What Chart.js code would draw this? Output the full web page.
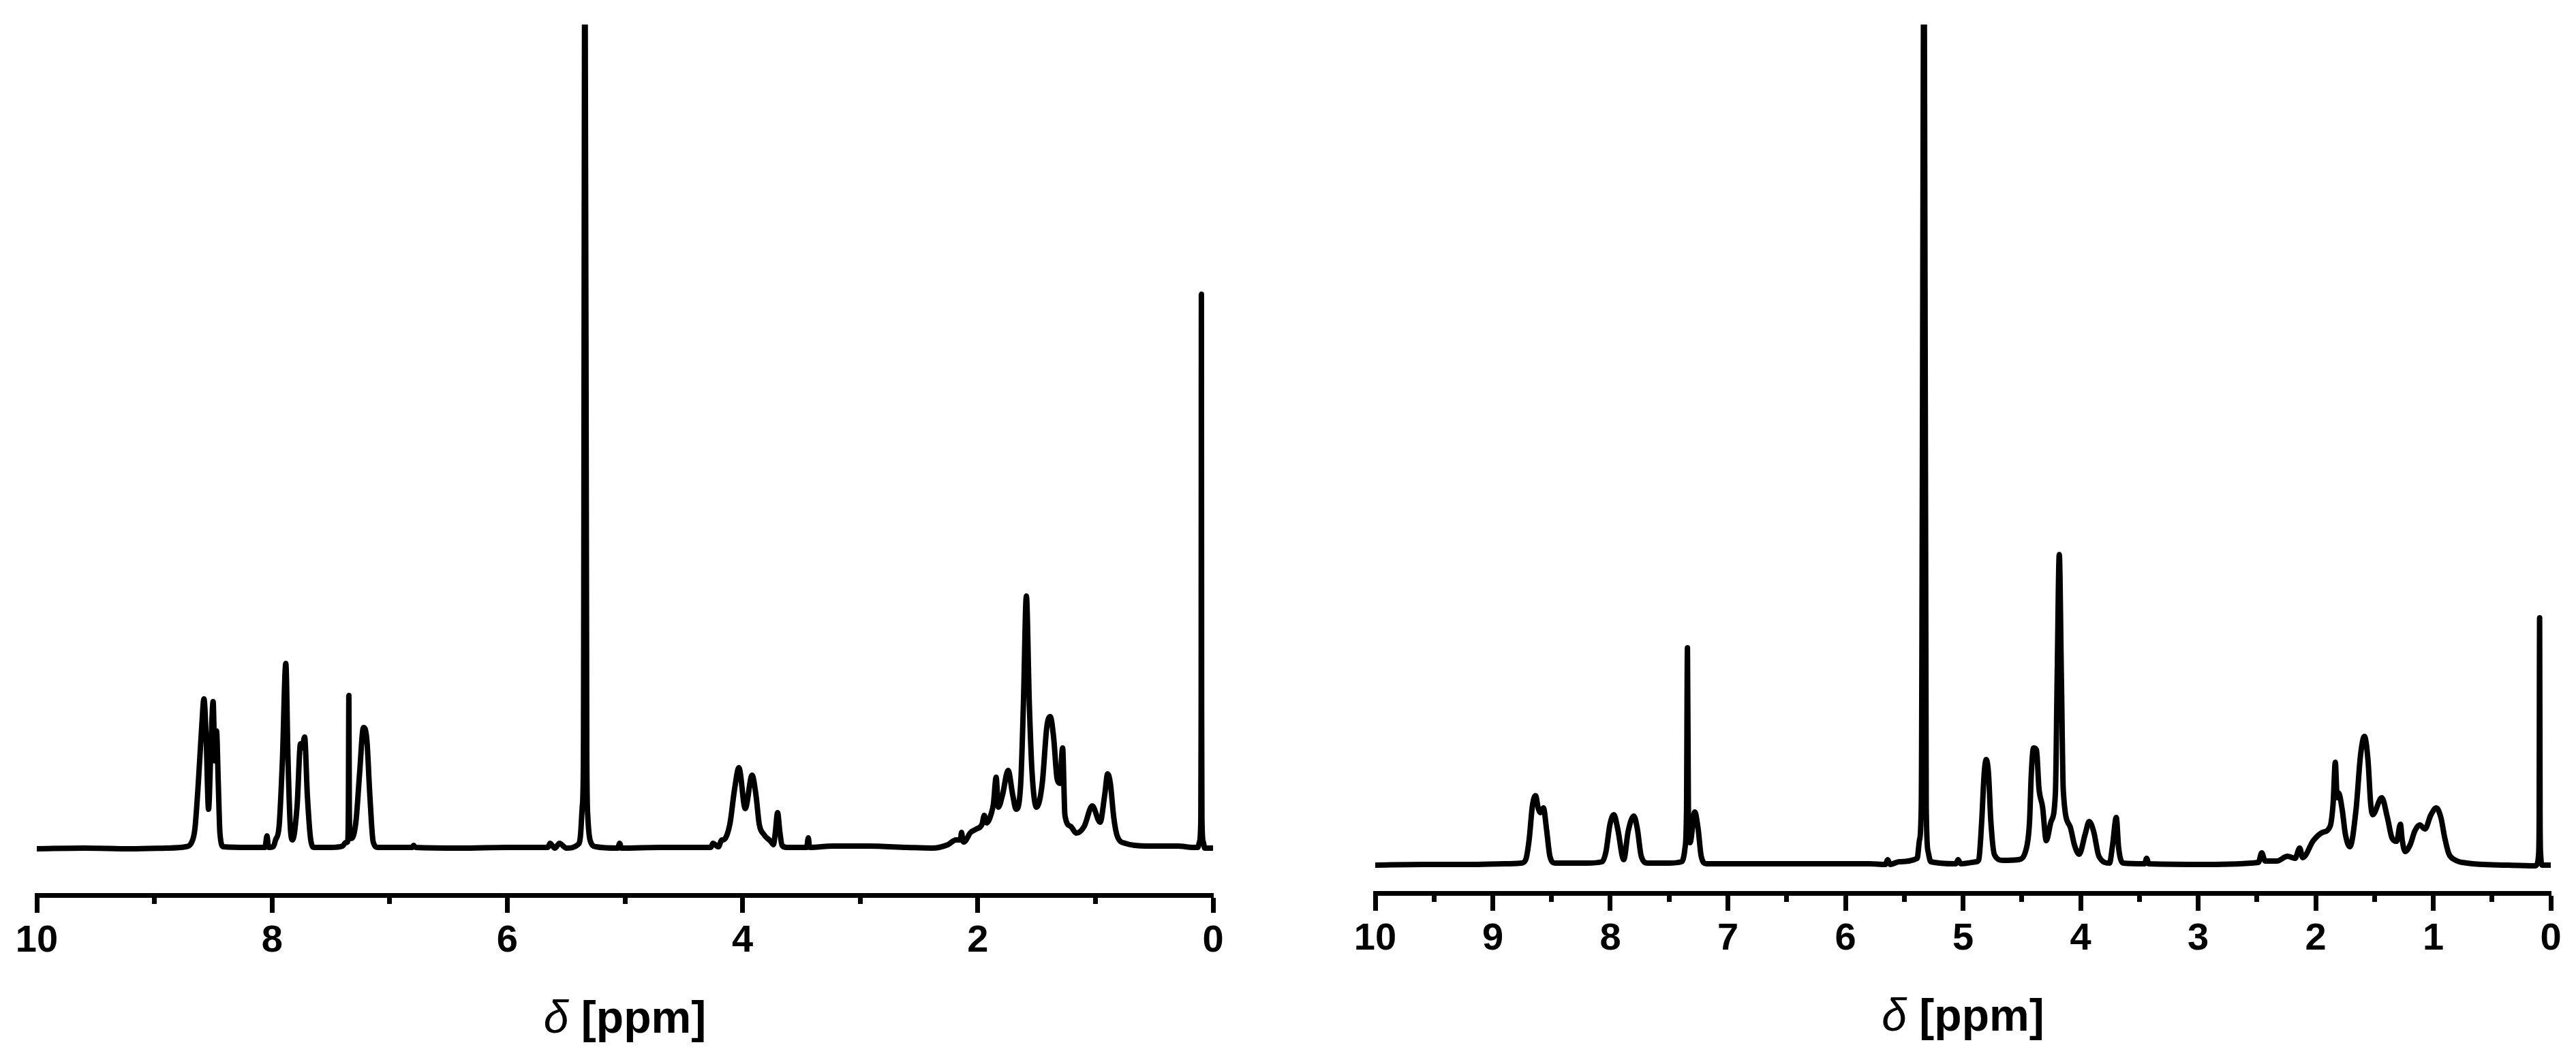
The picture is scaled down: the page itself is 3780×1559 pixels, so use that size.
<!DOCTYPE html>
<html>
<head>
<meta charset="utf-8">
<script src="https://cdn.jsdelivr.net/npm/chart.js@4.4.0/dist/chart.umd.min.js"></script>
<style>
  html, body { margin: 0; padding: 0; background: #fff; }
  #wrap { position: relative; width: 3780px; height: 1559px; }
  canvas { position: absolute; top: 0; }
</style>
</head>
<body>
<div id="wrap">
  <canvas id="left" width="1890" height="1559" style="left:0"></canvas>
  <canvas id="right" width="1890" height="1559" style="left:1890px"></canvas>
</div>
<script>
// left spectrum: chemical shift (ppm) and intensity
const leftPpm = [10.00, 9.60, 9.20, 8.90, 8.733, 8.685, 8.656, 8.627, 8.598, 8.579, 8.560, 8.540, 8.520, 8.501, 8.486, 8.472, 8.457, 8.443, 8.414,
  8.20, 8.06, 8.043, 8.03, 7.99, 7.97, 7.94, 7.912, 7.883, 7.864, 7.845, 7.826, 7.787, 7.758, 7.745, 7.723, 7.700, 7.671, 7.642,
  7.50, 7.40, 7.375, 7.358, 7.351, 7.347, 7.343, 7.336, 7.314, 7.285, 7.256, 7.223, 7.194, 7.169, 7.140, 7.100,
  6.90, 6.81, 6.796, 6.78, 6.40, 6.00, 5.70, 5.655, 5.637, 5.596, 5.556, 5.498, 5.40, 5.378, 5.362, 5.353, 5.340, 5.324, 5.315, 5.295, 5.247,
  5.06, 5.045, 5.03, 4.70, 4.40, 4.27, 4.252, 4.206, 4.175, 4.166, 4.108, 4.069, 4.031, 3.977, 3.919, 3.886, 3.858, 3.819, 3.760,
  3.737, 3.722, 3.702, 3.683, 3.664, 3.625, 3.455, 3.441, 3.43, 3.23, 2.93, 2.60, 2.389, 2.254, 2.186, 2.148, 2.138, 2.128, 2.119,
  2.061, 2.012, 1.964, 1.945, 1.925, 1.883, 1.867, 1.844, 1.825, 1.790, 1.742, 1.703, 1.674, 1.635, 1.612, 1.587, 1.562, 1.539,
  1.500, 1.452, 1.413, 1.384, 1.355, 1.326, 1.303, 1.279, 1.259, 1.211, 1.162, 1.095, 1.027, 0.960, 0.921, 0.896, 0.873, 0.844,
  0.815, 0.747, 0.554, 0.300, 0.168, 0.130, 0.115, 0.104, 0.101, 0.099, 0.097, 0.094, 0.083, 0.070, 0.000];
const leftInt = [0.0, 0.1, 0.0, 0.1, 0.3, 0.9, 2.9, 9.6, 17.9, 22.0, 16.3, 5.8, 14.6, 21.6, 12.9, 17.3, 9.6, 2.3, 0.3,
  0.2, 0.2, 1.9, 0.2, 0.3, 1.3, 3.3, 12.9, 27.2, 12.9, 3.3, 1.3, 6.3, 15.4, 14.8, 16.4, 7.9, 1.3, 0.2,
  0.2, 0.4, 0.9, 1.0, 6.0, 22.5, 6.0, 1.5, 1.7, 4.3, 11.0, 17.8, 16.0, 8.0, 1.0, 0.2,
  0.2, 0.2, 0.5, 0.2, 0.1, 0.2, 0.2, 0.2, 0.8, 0.1, 0.8, 0.1, 0.6, 1.9, 6.3, 12.9, 140, 12.9, 4.6, 1.2, 0.3,
  0.1, 0.8, 0.1, 0.2, 0.2, 0.2, 0.8, 0.3, 1.3, 1.3, 3.6, 8.6, 11.9, 5.9, 10.8, 7.9, 3.6, 2.1, 1.1,
  0.6, 2.3, 5.3, 2.5, 0.5, 0.2, 0.2, 1.6, 0.2, 0.4, 0.4, 0.2, 0.1, 0.6, 1.3, 1.3, 2.4, 1.2, 1.0,
  2.4, 2.9, 3.6, 4.9, 3.8, 5.3, 6.6, 10.5, 6.1, 7.9, 11.5, 7.9, 5.8, 9.6, 21.3, 37.1, 21.3, 11.3,
  6.1, 9.6, 17.9, 19.4, 16.3, 10.3, 9.6, 14.8, 4.9, 3.3, 2.3, 3.3, 6.3, 3.9, 7.9, 11.0, 9.6, 4.6,
  1.9, 0.8, 0.4, 0.4, 0.2, 0.2, 1.0, 4.0, 20.0, 81.4, 20.0, 4.0, 1.0, 0.1, 0.1];

// right spectrum
const rightPpm = [10.00, 9.60, 9.20, 8.90, 8.758, 8.720, 8.691, 8.663, 8.636, 8.613, 8.596, 8.569, 8.543, 8.514, 8.470,
  8.20, 8.070, 8.037, 8.003, 7.970, 7.937, 7.886, 7.848, 7.800, 7.770, 7.737, 7.682,
  7.50, 7.394, 7.365, 7.352, 7.344, 7.336, 7.322, 7.282, 7.253, 7.227, 7.183,
  6.80, 6.20, 5.80, 5.66, 5.641, 5.62, 5.544, 5.390, 5.370, 5.355, 5.331, 5.313, 5.297, 5.274,
  5.06, 5.042, 5.02, 4.887, 4.866, 4.841, 4.820, 4.802, 4.783, 4.763, 4.732, 4.659, 4.530,
  4.465, 4.434, 4.419, 4.400, 4.375, 4.354, 4.323, 4.292, 4.251, 4.214, 4.199, 4.181, 4.163, 4.147, 4.090, 4.051, 4.012,
  3.960, 3.927, 3.888, 3.844, 3.754, 3.728, 3.696, 3.676, 3.637, 3.455, 3.438, 3.42, 2.925,
  2.487, 2.459, 2.430, 2.330, 2.240, 2.175, 2.136, 2.110, 2.020, 1.942, 1.877, 1.851, 1.833, 1.817, 1.805, 1.774, 1.748, 1.709,
  1.657, 1.618, 1.585, 1.554, 1.533, 1.515, 1.438, 1.390, 1.351, 1.312, 1.279, 1.264, 1.239, 1.196, 1.157, 1.115, 1.070,
  1.022, 0.974, 0.935, 0.902, 0.868, 0.819, 0.713, 0.365, 0.133, 0.115, 0.104, 0.099, 0.095, 0.091, 0.086, 0.075, 0.000];
const rightInt = [0.0, 0.1, 0.1, 0.2, 0.3, 0.8, 3.7, 8.7, 10.2, 8.3, 7.7, 8.4, 5.3, 1.3, 0.3,
  0.3, 0.5, 2.0, 6.0, 7.4, 5.3, 0.8, 5.0, 7.2, 5.3, 1.3, 0.3,
  0.3, 0.5, 2.5, 8.0, 31.9, 8.0, 3.3, 7.8, 5.3, 1.3, 0.2,
  0.2, 0.2, 0.2, 0.1, 0.8, 0.1, 0.5, 1.0, 3.7, 8.7, 140, 8.7, 2.0, 0.5,
  0.2, 0.8, 0.2, 0.5, 0.8, 6.4, 13.4, 15.5, 13.4, 6.4, 1.5, 0.7, 0.8,
  2.2, 6.4, 13.4, 17.2, 16.9, 11.3, 8.5, 3.6, 6.4, 10.6, 27.4, 45.6, 27.4, 11.0, 5.7, 2.9, 1.6,
  4.6, 6.4, 4.9, 1.3, 0.3, 2.9, 7.0, 2.5, 0.3, 0.2, 1.0, 0.2, 0.1,
  0.4, 1.8, 0.6, 0.6, 1.3, 1.0, 2.5, 1.1, 3.6, 4.8, 5.7, 9.2, 15.1, 9.9, 10.6, 8.1, 4.6, 2.7,
  8.1, 16.2, 18.9, 15.2, 9.2, 7.4, 9.9, 7.0, 4.0, 3.5, 6.0, 3.7, 2.0, 3.0, 5.0, 5.9, 5.3,
  7.3, 8.4, 7.0, 4.0, 1.7, 0.8, 0.3, 0.0, -0.1, 0.2, 1.5, 6.0, 36.3, 6.0, 1.5, 0.0, 0.0];

// tick values
const leftMajor = [10, 8, 6, 4, 2, 0];
const leftMinor = [9, 7, 5, 3, 1];
const rightMajor = [10, 9, 8, 7, 6, 5, 4, 3, 2, 1, 0];
const rightMinor = [9.5, 8.5, 7.5, 6.5, 5.5, 4.5, 3.5, 2.5, 1.5, 0.5];

const FAMILY = '"Liberation Sans", Arial, sans-serif';
Chart.defaults.font.family = FAMILY;
Chart.defaults.color = '#000';

// axis title with an italic delta and a bold unit
const axisTitle = {
  id: 'axisTitle',
  afterDraw(chart, args, opts) {
    const ctx = chart.ctx;
    const area = chart.chartArea;
    const y = area.bottom + opts.offset;
    const f1 = 'italic 66px ' + FAMILY;
    const f2 = 'bold 66px ' + FAMILY;
    ctx.save();
    ctx.fillStyle = '#000';
    ctx.textBaseline = 'alphabetic';
    ctx.textAlign = 'left';
    ctx.font = f1;
    const w1 = ctx.measureText(opts.symbol).width;
    ctx.font = f2;
    const w2 = ctx.measureText(opts.unit).width;
    const x = (area.left + area.right) / 2 - (w1 + w2) / 2;
    ctx.font = f1;
    ctx.fillText(opts.symbol, x, y);
    ctx.font = f2;
    ctx.fillText(opts.unit, x + w1, y);
    ctx.restore();
  }
};

function makeSpectrum(id, ppm, intensity, major, minor, yMin, yMax, padding, axisHeight) {
  const points = ppm.map((p, i) => ({ x: p, y: intensity[i] }));
  return new Chart(document.getElementById(id), {
    type: 'line',
    data: {
      datasets: [{
        data: points,
        borderColor: '#000',
        borderWidth: 8,
        pointRadius: 0,
        fill: false,
        cubicInterpolationMode: 'monotone',
        borderJoinStyle: 'round',
        clip: { left: 4, right: 4, top: 0, bottom: 4 }
      }]
    },
    options: {
      responsive: false,
      animation: false,
      layout: { padding: padding },
      plugins: {
        legend: { display: false },
        tooltip: { enabled: false },
        axisTitle: { symbol: 'δ', unit: ' [ppm]', offset: 202 }
      },
      scales: {
        x: {
          type: 'linear', position: 'bottom', weight: 1,
          min: 0, max: 10, reverse: true,
          grid: { display: true, drawOnChartArea: false, drawTicks: true, tickLength: 26, tickWidth: 7, tickColor: '#000' },
          border: { display: true, width: 7, color: '#000' },
          ticks: { padding: 8, color: '#000', autoSkip: false, maxRotation: 0, font: { size: 56, weight: 'bold' } },
          afterBuildTicks: s => { s.ticks = major.map(v => ({ value: v })); },
          afterFit: s => { s.height = axisHeight; }
        },
        xm: {
          type: 'linear', position: 'bottom', weight: 0,
          min: 0, max: 10, reverse: true,
          grid: { display: true, drawOnChartArea: false, drawTicks: true, tickLength: 13, tickWidth: 7, tickColor: '#000' },
          border: { display: false },
          ticks: { display: false },
          afterBuildTicks: s => { s.ticks = minor.map(v => ({ value: v })); },
          afterFit: s => { s.height = 0; }
        },
        y: { display: false, min: yMin, max: yMax }
      }
    },
    plugins: [axisTitle]
  });
}

makeSpectrum('left', leftPpm, leftInt, leftMajor, leftMinor, -6.8, 121.0,
  { left: 54, right: 110, top: 36, bottom: 0 }, 245);
makeSpectrum('right', rightPpm, rightInt, rightMajor, rightMinor, -4.1, 123.4,
  { left: 128, right: 37, top: 36, bottom: 0 }, 248);
</script>
</body>
</html>
